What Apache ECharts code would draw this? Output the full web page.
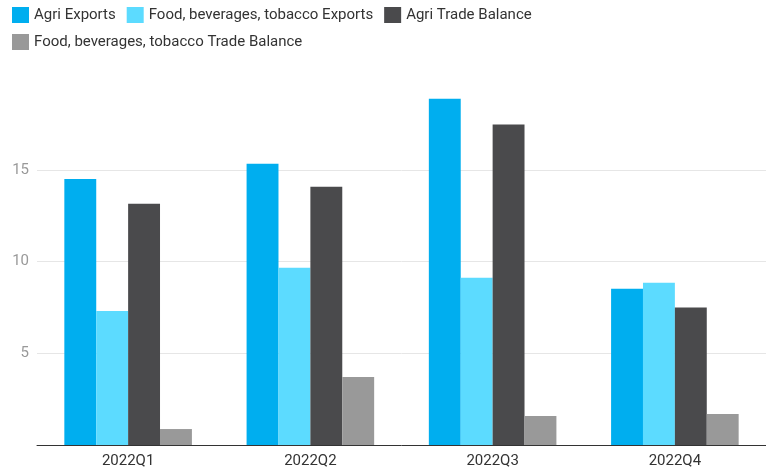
<!DOCTYPE html>
<html>
<head>
<meta charset="utf-8">
<script src="https://cdn.jsdelivr.net/npm/echarts@6/dist/echarts.min.js"></script>
<style>
  html, body { margin: 0; padding: 0; background: #fff; }
  #chart { width: 766px; height: 469px; }
</style>
</head>
<body>
<div id="chart"></div>
<script>
var quarters = ['2022Q1', '2022Q2', '2022Q3', '2022Q4'];
var agriExports = [14.5, 15.33, 18.87, 8.51];
var foodExports = [7.3, 9.66, 9.11, 8.84];
var agriBalance = [13.15, 14.07, 17.46, 7.5];
var foodBalance = [0.87, 3.7, 1.58, 1.69];

var chart = echarts.init(document.getElementById('chart'));

function bar(name, data, color) {
    return {
        name: name,
        type: 'bar',
        data: data,
        barGap: 0,
        barCategoryGap: '30%',
        itemStyle: { color: color }
    };
}

var option = {
    animation: false,
    textStyle: { fontFamily: 'Roboto' },
    legend: {
        left: 12,
        top: 7,
        width: 620,
        padding: 0,
        itemWidth: 17,
        itemHeight: 16,
        itemGap: 11,
        icon: 'rect',
        textStyle: { fontSize: 15, color: '#333' }
    },
    grid: {
        left: 37,
        right: 0,
        top: 78,
        bottom: 24
    },
    xAxis: {
        type: 'category',
        data: quarters,
        axisTick: { show: false },
        axisLine: { lineStyle: { color: '#333', width: 1 } },
        axisLabel: { color: '#333', fontSize: 15, margin: 9 }
    },
    yAxis: {
        type: 'value',
        min: 0,
        max: 20,
        interval: 5,
        axisLine: { show: false },
        axisTick: { show: false },
        axisLabel: {
            color: '#999',
            fontSize: 15,
            margin: 8,
            showMinLabel: false,
            showMaxLabel: false
        },
        splitLine: {
            lineStyle: {
                color: ['#e6e6e6', '#e6e6e6', '#e6e6e6', '#e6e6e6', 'rgba(0,0,0,0)']
            }
        }
    },
    series: [
        bar('Agri Exports', agriExports, '#00AEEF'),
        bar('Food, beverages, tobacco Exports', foodExports, '#5CDBFF'),
        bar('Agri Trade Balance', agriBalance, '#4A4A4C'),
        bar('Food, beverages, tobacco Trade Balance', foodBalance, '#999999')
    ]
};

chart.setOption(option);
</script>
</body>
</html>
